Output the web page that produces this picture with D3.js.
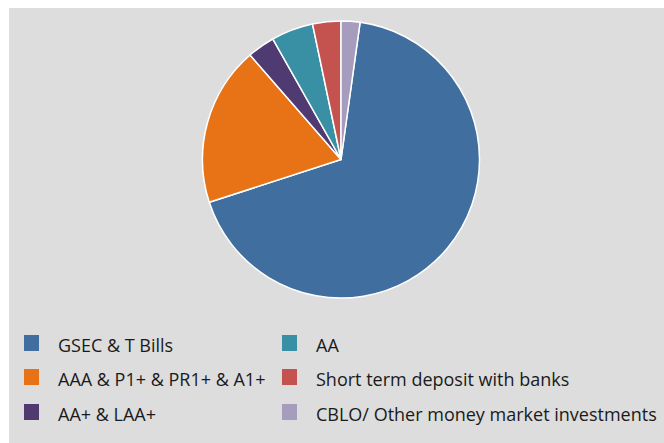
<!DOCTYPE html>
<html>
<head>
<meta charset="utf-8">
<script src="https://cdn.jsdelivr.net/npm/d3@7"></script>
<style>
  html, body { margin: 0; padding: 0; background: #ffffff; }
  svg { display: block; }
</style>
</head>
<body>
<svg id="chart" width="664" height="443"></svg>
<script>
// Portfolio composition by instrument / rating (% of net assets)
const categories = [
  "GSEC & T Bills",
  "AAA & P1+ & PR1+ & A1+",
  "AA+ & LAA+",
  "AA",
  "Short term deposit with banks",
  "CBLO/ Other money market investments"
];
const shares = [67.8, 18.6, 3.2, 4.9, 3.3, 2.2];
const colors = ["#3f6e9f", "#e77316", "#4f3a72", "#3990a5", "#c4534f", "#a69cbe"];

const width = 664, height = 443;
const svg = d3.select("#chart");

// panel background
svg.append("rect")
  .attr("x", 9).attr("y", 8)
  .attr("width", width - 9).attr("height", height - 8)
  .attr("fill", "#dddddd");

const cx = 341, cy = 159.5, radius = 138.5;
const total = d3.sum(shares);
// rotate so the last slice finishes exactly at 12 o'clock
const offset = 2 * Math.PI * shares[shares.length - 1] / total;

const pie = d3.pie()
  .sort(null)
  .value(d => d.value)
  .startAngle(offset)
  .endAngle(offset + 2 * Math.PI);

const data = categories.map((c, i) => ({ name: c, value: shares[i], color: colors[i] }));
const arc = d3.arc().innerRadius(0).outerRadius(radius);

const g = svg.append("g").attr("transform", `translate(${cx},${cy})`);
g.selectAll("path")
  .data(pie(data))
  .join("path")
  .attr("d", arc)
  .attr("fill", d => d.data.color)
  .attr("stroke", "#ffffff")
  .attr("stroke-width", 1.5)
  .attr("stroke-linejoin", "round");

// legend: two columns, three rows
const colX = [24, 282];
const rowTop = [335, 369, 404];
const legend = svg.append("g");
data.forEach((d, i) => {
  const col = Math.floor(i / 3), row = i % 3;
  const item = legend.append("g")
    .attr("transform", `translate(${colX[col]},${rowTop[row]})`);
  item.append("rect")
    .attr("x", 0).attr("y", 0)
    .attr("width", 15).attr("height", 16)
    .attr("fill", d.color);
  item.append("text")
    .attr("x", 34).attr("y", 17)
    .attr("font-family", "'Open Sans', sans-serif")
    .attr("font-size", 18)
    .attr("fill", "#1a1a1a")
    .text(d.name);
});
</script>
</body>
</html>
